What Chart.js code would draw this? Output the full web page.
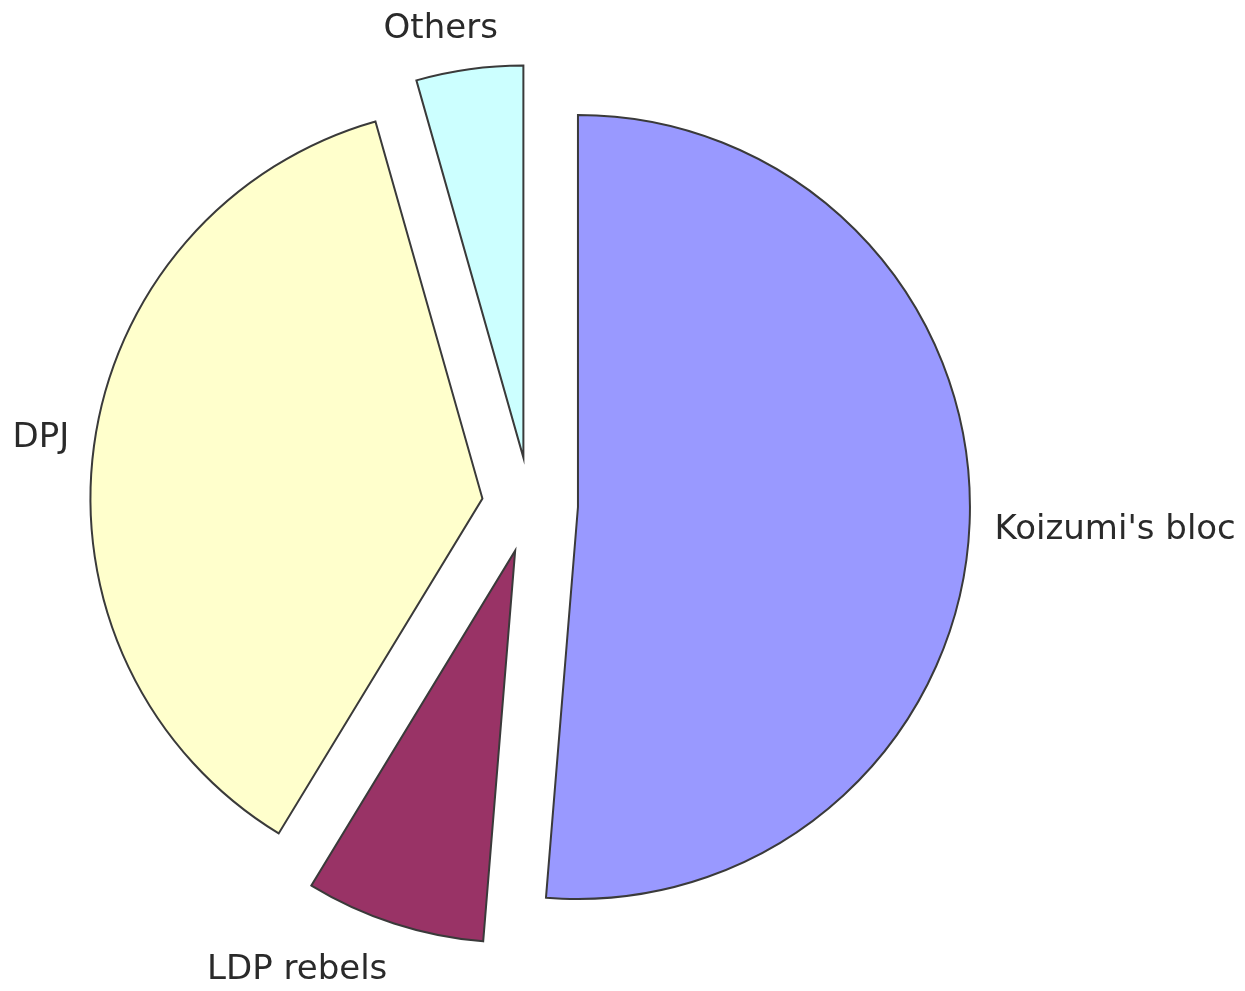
<!DOCTYPE html>
<html>
<head>
<meta charset="utf-8">
<script src="https://cdn.jsdelivr.net/npm/chart.js@4/dist/chart.umd.min.js"></script>
<style>
  html, body { margin:0; padding:0; background:#fff; }
  #wrap { width:1245px; height:991px; position:relative; }
</style>
</head>
<body>
<div id="wrap"><canvas id="pieChart"></canvas></div>
<script>
// seat/vote shares, clockwise from 12 o'clock
const labels = ["Koizumi's bloc", 'LDP rebels', 'DPJ', 'Others'];
const shares = [51.3, 7.4, 36.9, 4.4];
const colors = ['#9999ff', '#993366', '#ffffcc', '#ccffff'];

const explode = 48;
const labelDist = 417;

// push every slice out from the centre along its middle angle
const explodePlugin = {
  id:'explode',
  afterDatasetsUpdate(chart){
    chart.getDatasetMeta(0).data.forEach(function(arc){
      const mid = (arc.startAngle + arc.endAngle) / 2;
      arc.x += Math.cos(mid) * explode;
      arc.y += Math.sin(mid) * explode;
    });
  }
};

// slice names outside the pie
const labelPlugin = {
  id:'sliceLabels',
  afterDatasetsDraw(chart){
    const ctx = chart.ctx;
    const size = 34;
    ctx.save();
    ctx.font = size + 'px "DejaVu Sans"';
    ctx.fillStyle = '#2a2a2a';
    ctx.textAlign = 'left';
    ctx.textBaseline = 'alphabetic';
    chart.getDatasetMeta(0).data.forEach(function(arc, i){
      const mid = (arc.startAngle + arc.endAngle) / 2;
      const dx = Math.cos(mid), dy = Math.sin(mid);
      const lx = arc.x + dx * labelDist;
      const ly = arc.y + dy * labelDist;
      const w = ctx.measureText(labels[i]).width;
      const h = size * 1.1;
      const f = Math.min(1, Math.max(0, 0.5 - dx * 1.6));
      const g = Math.min(1, Math.max(0, 0.5 - dy * 1.6));
      ctx.fillText(labels[i], lx - w * f, ly + h * (1 - g) - 6);
    });
    ctx.restore();
  }
};

new Chart(document.getElementById('pieChart'), {
  type:'pie',
  data:{
    labels:labels,
    datasets:[{
      data:shares,
      backgroundColor:colors,
      borderColor:'#3a3a3a',
      borderWidth:2,
      borderJoinStyle:'miter'
    }]
  },
  options:{
    responsive:true,
    maintainAspectRatio:false,
    animation:false,
    radius:392,
    layout:{ padding:{ left:0, right:185, top:19, bottom:0 } },
    plugins:{
      legend:{ display:false },
      tooltip:{ enabled:false }
    }
  },
  plugins:[explodePlugin, labelPlugin]
});
</script>
</body>
</html>
